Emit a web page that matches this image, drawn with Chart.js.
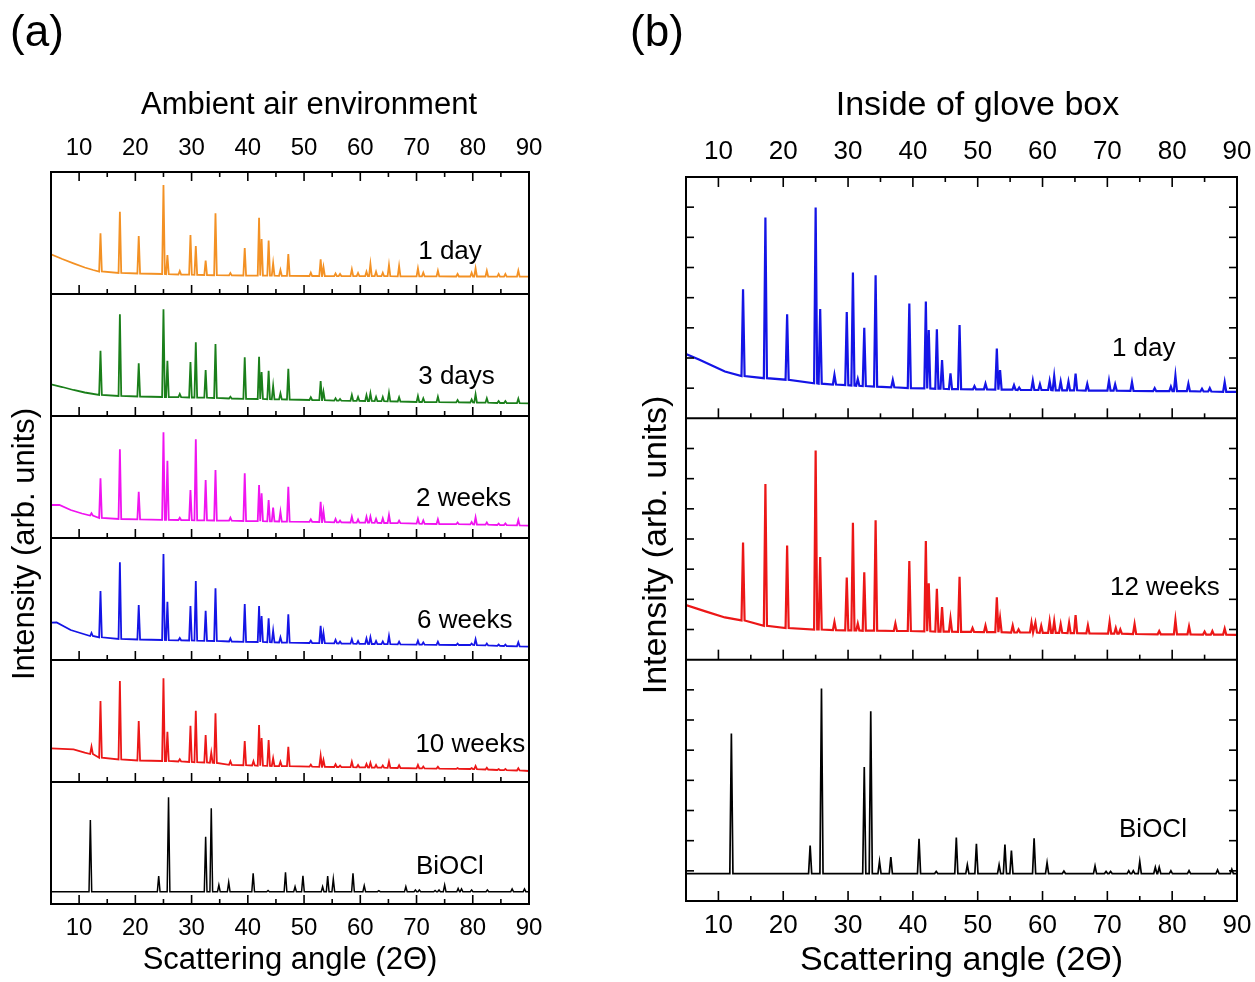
<!DOCTYPE html>
<html>
<head>
<meta charset="utf-8">
<title>XRD patterns</title>
<script src="https://cdn.jsdelivr.net/npm/chart.js@4.4.1/dist/chart.umd.min.js"></script>
<style>
  body { margin: 0; background: #fff; }
  canvas { position: absolute; top: 0; }
  #chartA { left: 0; }
  #chartB { left: 600px; }
</style>
</head>
<body>
<canvas id="chartA" width="560" height="982"></canvas>
<canvas id="chartB" width="655" height="982"></canvas>
<script>
// shared 2-theta ticks
var majorTicks = [10, 20, 30, 40, 50, 60, 70, 80, 90];
var minorTicks = [15, 25, 35, 45, 55, 65, 75, 85];
var glovesYTicks = [1, 2, 3, 4, 5, 6, 7];

// peaks are [2theta, top, foot]; base are [2theta, level] where no peak is
// (a) ambient air, each strip in arb. units 0..122
var air1dayBase = [[5, 39.7], [7, 35], [9, 30.7], [11, 26.5], [12.5, 24], [90, 17.3]];
var air1day = [[13.8, 60.7, 22.5], [17.25, 82.3, 21], [20.6, 58, 20.5], [25.0, 109, 20], [25.7, 39, 19.8], [27.9, 23, 19.5], [29.8, 59, 19.3], [30.75, 48, 19.2], [32.5, 33.5, 19], [34.25, 80.7, 18.8], [36.9, 21, 18.6], [39.45, 46, 18.5], [42.0, 76.3, 18.4], [42.45, 55, 18.4], [43.7, 53.5, 18.3], [44.5, 30.7, 18.3], [45.8, 24, 18.2], [47.2, 40, 18.2], [51.2, 21.3, 18], [52.95, 34.7, 18], [53.45, 27, 18], [55.6, 20.5, 17.9], [56.4, 20, 17.9], [58.5, 24.7, 17.9], [59.6, 21, 17.8], [61.1, 22.3, 17.8], [61.8, 30, 17.8], [62.8, 22.3, 17.8], [64.0, 21.3, 17.8], [65.1, 29, 17.8], [66.9, 28, 17.7], [70.25, 25.7, 17.7], [71.2, 21.3, 17.6], [73.8, 23.3, 17.6], [77.3, 20, 17.5], [79.8, 21.3, 17.5], [80.5, 25.7, 17.5], [82.5, 23.3, 17.5], [84.6, 20, 17.4], [85.8, 20, 17.4], [88.1, 23.3, 17.3]];

var air3daysBase = [[5, 31.7], [7, 29], [9, 26], [11, 23.5], [90, 12.7]];
var air3days = [[13.8, 65.3, 21], [17.25, 101.7, 20], [20.6, 52.7, 19.5], [25.0, 106.7, 19], [25.7, 55.3, 19], [27.9, 22, 18.8], [29.8, 54, 18.5], [30.75, 73.7, 18.5], [32.5, 46, 18.3], [34.25, 72, 18], [36.9, 19.3, 17.5], [39.45, 58.7, 17.2], [42.0, 59.3, 17], [42.45, 44, 17], [43.7, 45.3, 16.8], [44.5, 30, 16.7], [45.8, 22.7, 16.6], [47.2, 47.3, 16.5], [51.2, 18.7, 16], [52.95, 35, 15.8], [53.45, 24.3, 15.8], [55.6, 17.7, 15.4], [56.4, 17, 15.3], [58.5, 21, 15.2], [59.6, 19, 15.1], [61.1, 21, 15], [61.8, 22.7, 15], [62.8, 19, 14.9], [64.0, 19, 14.8], [65.1, 23.3, 14.7], [66.9, 18.7, 14.5], [70.25, 20, 14], [71.2, 17.7, 14], [73.8, 19.3, 13.9], [77.3, 16, 13.6], [79.8, 16.5, 13.5], [80.5, 21.7, 13.4], [82.5, 17.7, 13.3], [84.6, 15, 13], [85.8, 15, 13], [88.1, 17.3, 12.8]];

var air2weeksBase = [[5, 33], [6.5, 33], [8.5, 28], [10.5, 24.5], [90, 12.3]];
var air2weeks = [[12.2, 24.7, 22.5], [13.8, 59.7, 20], [17.25, 88.7, 19], [20.6, 46.3, 18.7], [25.0, 105.7, 18.2], [25.7, 77.3, 18.2], [27.9, 20.3, 18], [29.8, 48, 17.8], [30.75, 98.7, 17.7], [32.5, 58, 17.6], [34.25, 68, 17.5], [36.9, 20.3, 17.3], [39.45, 64.7, 17], [42.0, 53, 16.8], [42.45, 44.7, 16.8], [43.7, 38, 16.7], [44.5, 30.3, 16.6], [45.8, 26.3, 16.5], [47.2, 51.3, 16.4], [51.2, 18.7, 16.2], [52.95, 36.3, 16], [53.45, 27, 16], [55.6, 19, 15.7], [56.4, 17.5, 15.6], [58.5, 21.3, 15.5], [59.6, 18.5, 15.4], [61.1, 21, 15.3], [61.8, 21.3, 15.3], [62.8, 19, 15.2], [64.0, 19.5, 15], [65.1, 23, 15], [66.9, 17.3, 14.8], [70.25, 19.3, 14.3], [71.2, 17.5, 14.2], [73.8, 18.7, 14], [77.3, 15.5, 13.8], [79.8, 16, 13.6], [80.5, 20.7, 13.5], [82.5, 15.5, 13.3], [84.6, 14.5, 13], [85.8, 14.5, 12.9], [88.1, 18, 12.6]];

var air6weeksBase = [[5, 37.3], [6, 37.5], [8.5, 30], [10.5, 26.5], [90, 13.3]];
var air6weeks = [[12.2, 27, 24], [13.8, 69, 22.7], [17.25, 97.7, 21], [20.6, 55, 20.5], [25.0, 106, 20], [25.7, 58.3, 19.9], [27.9, 22, 19.7], [29.8, 54, 19.5], [30.75, 79, 19.4], [32.5, 49.3, 19.2], [34.25, 71.7, 19], [36.9, 21.7, 18.5], [39.45, 56, 18.2], [42.0, 54, 18], [42.45, 44, 18], [43.7, 41.7, 17.8], [44.5, 29.3, 17.7], [45.8, 22.7, 17.5], [47.2, 45.7, 17.4], [51.2, 19.3, 17], [52.95, 34.3, 16.8], [53.45, 27, 16.8], [55.6, 20, 16.6], [56.4, 18.5, 16.5], [58.5, 20.7, 16.3], [59.6, 19, 16.2], [61.1, 21.5, 16.1], [61.8, 22.7, 16], [62.8, 19, 16], [64.0, 18.5, 15.9], [65.1, 24, 15.8], [66.9, 18.3, 15.6], [70.25, 19.3, 15.4], [71.2, 17.5, 15.3], [73.8, 18.3, 15.2], [77.3, 16.5, 15], [79.8, 16.5, 15], [80.5, 20.7, 14.9], [82.5, 16.5, 14.6], [84.6, 15.5, 14.2], [85.8, 15.5, 14], [88.1, 17.7, 13.7]];

var air10weeksBase = [[5, 33.7], [9, 32.7], [11, 29.3], [90, 11]];
var air10weeks = [[12.2, 35.3, 28], [13.8, 81, 24.3], [17.25, 101, 22.5], [20.6, 61, 21.5], [25.0, 103.7, 21], [25.7, 50.3, 21], [27.9, 22.7, 20.5], [29.8, 56.3, 20], [30.75, 71.3, 19.8], [32.5, 47, 19.5], [33.5, 29.3, 19.3], [34.25, 68.7, 19], [36.9, 20.7, 17.2], [39.45, 41, 16.8], [41.0, 20.7, 16.5], [42.0, 57, 16.3], [42.45, 44, 16.3], [43.7, 42, 16.1], [44.5, 23.7, 16], [45.8, 20.3, 15.9], [47.2, 35.3, 15.8], [51.2, 17.3, 15.3], [52.95, 26.3, 15.2], [53.45, 22, 15.2], [55.6, 17.7, 15], [56.4, 16.5, 15], [58.5, 20.3, 14.8], [59.6, 17, 14.7], [61.1, 18, 14.6], [61.8, 19.3, 14.5], [62.8, 17, 14.4], [64.0, 16.5, 14.3], [65.1, 20.3, 14.2], [66.9, 16.7, 14], [70.25, 17, 13.7], [71.2, 15.5, 13.6], [73.8, 15.3, 13.4], [77.3, 14, 13.1], [79.8, 14, 13], [80.5, 16, 12.9], [82.5, 14.3, 12.5], [84.6, 13, 12], [85.8, 13, 11.9], [88.1, 13.7, 11.5]];

// (b) inside glove box, each strip in arb. units 0..8
var glove1dayBase = [[5, 2.13], [7, 1.95], [9, 1.75], [11, 1.55], [90, 0.88]];
var glove1day = [[13.8, 4.28, 1.4], [17.25, 6.66, 1.33], [20.6, 3.45, 1.28], [25.0, 6.99, 1.16], [25.7, 3.62, 1.15], [27.9, 1.44, 1.12], [29.8, 3.52, 1.1], [30.75, 4.83, 1.09], [31.5, 1.3, 1.08], [32.5, 3.0, 1.07], [34.25, 4.74, 1.05], [36.9, 1.27, 1.03], [39.45, 3.81, 1.0], [42.0, 3.87, 0.99], [42.45, 2.93, 0.99], [43.7, 2.95, 0.98], [44.5, 1.93, 0.98], [45.8, 1.49, 0.97], [47.2, 3.09, 0.97], [49.5, 1.07, 0.96], [51.2, 1.15, 0.96], [52.95, 2.31, 0.95], [53.45, 1.6, 0.95], [55.6, 1.1, 0.95], [56.4, 1.02, 0.94], [58.5, 1.25, 0.94], [59.6, 1.13, 0.94], [61.1, 1.24, 0.94], [61.8, 1.4, 0.93], [62.8, 1.22, 0.93], [64.0, 1.22, 0.93], [65.1, 1.48, 0.93], [66.9, 1.14, 0.92], [70.25, 1.25, 0.92], [71.2, 1.13, 0.92], [73.8, 1.2, 0.91], [77.3, 1.0, 0.9], [79.8, 1.05, 0.9], [80.5, 1.41, 0.9], [82.5, 1.15, 0.9], [84.6, 0.98, 0.89], [85.8, 1.0, 0.89], [88.1, 1.2, 0.88]];

var glove12weeksBase = [[5, 1.81], [8, 1.6], [11, 1.4], [90, 0.82]];
var glove12weeks = [[13.8, 3.88, 1.3], [17.25, 5.82, 1.12], [20.6, 3.78, 1.05], [25.0, 6.93, 1.0], [25.7, 3.4, 1.0], [27.9, 1.25, 0.98], [29.8, 2.72, 0.97], [30.75, 4.54, 0.97], [31.5, 1.2, 0.97], [32.5, 2.9, 0.96], [34.25, 4.62, 0.96], [37.3, 1.2, 0.95], [39.45, 3.27, 0.95], [42.0, 3.93, 0.94], [42.45, 2.53, 0.94], [43.7, 2.35, 0.93], [44.5, 1.74, 0.93], [45.8, 1.37, 0.93], [47.2, 2.75, 0.92], [49.2, 1.05, 0.92], [51.2, 1.13, 0.91], [52.95, 2.07, 0.91], [53.45, 1.38, 0.91], [55.4, 1.13, 0.9], [56.3, 1.0, 0.9], [58.3, 1.23, 0.9], [58.9, 1.23, 0.9], [59.8, 1.12, 0.89], [61.1, 1.28, 0.89], [61.8, 1.28, 0.89], [62.8, 1.18, 0.89], [64.1, 1.22, 0.88], [65.1, 1.48, 0.88], [67.0, 1.14, 0.87], [70.35, 1.25, 0.86], [71.3, 1.05, 0.86], [72.0, 1.0, 0.86], [74.2, 1.18, 0.85], [78.0, 0.95, 0.84], [80.5, 1.32, 0.84], [82.6, 1.1, 0.84], [85.0, 0.93, 0.83], [86.2, 0.95, 0.83], [88.1, 1.03, 0.83]];

// BiOCl reference lines, same angles on both panels
var bioclAngles = [12.0, 24.15, 25.9, 32.5, 33.5, 34.85, 36.6, 40.95, 43.6, 46.7, 48.4, 49.8, 53.3, 54.2, 55.2, 58.7, 60.7, 63.3, 68.1, 69.8, 70.5, 73.3, 74.0, 75.0, 77.4, 78.0, 79.8, 82.6, 87.0, 89.2];
var bioclAir = [84, 28, 106.7, 67.3, 95.7, 19, 21.7, 30.7, 13.5, 31.7, 17.3, 28.3, 17.3, 28, 25, 30.7, 18.3, 13.3, 17.3, 14, 14, 13.5, 14, 19, 15.5, 15, 14, 14, 15, 15];
var bioclGlove = [5.55, 1.84, 7.04, 4.44, 6.29, 1.31, 1.46, 2.06, 0.98, 2.1, 1.2, 1.9, 1.2, 1.87, 1.67, 2.08, 1.27, 0.99, 1.16, 0.98, 0.98, 1.0, 1.0, 1.31, 1.12, 1.12, 1.0, 1.01, 1.03, 1.05];
var bioclAirFloor = 12.3;
var bioclGloveFloor = 0.91;

var peakHalf = 0.24;
var fontFamily = "'Liberation Sans', Arial, sans-serif";
Chart.defaults.font.family = fontFamily;
Chart.defaults.color = '#000';

function trace(base, peaks) {
  var pts = base.map(function (b) { return {x: b[0], y: b[1]}; });
  peaks.forEach(function (p) {
    pts.push({x: p[0] - peakHalf, y: p[2]}, {x: p[0], y: p[1]}, {x: p[0] + peakHalf, y: p[2]});
  });
  return pts.sort(function (a, b) { return a.x - b.x; });
}

function sticks(heights, floor) {
  return trace([[5, floor], [90, floor]], bioclAngles.map(function (a, i) { return [a, heights[i], floor]; }));
}

// frame, inward ticks, dividers and the texts inside the plot
var panelFrame = {
  id: 'panelFrame',
  afterDatasetsDraw: function (chart, args, o) {
    var ctx = chart.ctx, area = chart.chartArea, xs = chart.scales.x;
    function seg(x1, y1, x2, y2) { ctx.beginPath(); ctx.moveTo(x1, y1); ctx.lineTo(x2, y2); ctx.stroke(); }
    ctx.save();
    ctx.strokeStyle = '#000';
    ctx.lineWidth = 1.6;
    o.strips.forEach(function (s, i) {
      var ys = chart.scales[s.axis];
      majorTicks.forEach(function (v) {
        var px = xs.getPixelForValue(v);
        seg(px, ys.bottom, px, ys.bottom - o.major);
        if (i === 0) seg(px, ys.top, px, ys.top + o.major);
      });
      minorTicks.forEach(function (v) {
        var px = xs.getPixelForValue(v);
        seg(px, ys.bottom, px, ys.bottom - o.minor);
        if (i === 0) seg(px, ys.top, px, ys.top + o.minor);
      });
      if (o.yTicks) {
        o.yTicks.forEach(function (v) {
          var py = ys.getPixelForValue(v);
          seg(area.left, py, area.left + o.yLen, py);
          seg(area.right, py, area.right - o.yLen, py);
        });
      }
    });
    ctx.lineWidth = 2;
    o.strips.forEach(function (s) {
      var ys = chart.scales[s.axis];
      seg(area.left, ys.bottom, area.right, ys.bottom);
    });
    ctx.strokeRect(area.left, area.top, area.right - area.left, area.bottom - area.top);

    ctx.fillStyle = '#000';
    ctx.textBaseline = 'middle';
    ctx.textAlign = 'left';
    ctx.font = '26px ' + fontFamily;
    o.strips.forEach(function (s) {
      ctx.fillText(s.text, xs.getPixelForValue(s.at[0]), chart.scales[s.axis].getPixelForValue(s.at[1]));
    });

    ctx.textAlign = 'center';
    ctx.font = o.titleSize + 'px ' + fontFamily;
    ctx.fillText(o.title, (area.left + area.right) / 2 + o.titleShift, o.titleY);
    ctx.save();
    ctx.translate(o.yTitleX, (area.top + area.bottom) / 2 + 6);
    ctx.rotate(-Math.PI / 2);
    ctx.fillText('Intensity (arb. units)', 0, 0);
    ctx.restore();
    ctx.font = '44px ' + fontFamily;
    ctx.fillText(o.letter, o.letterX, 34);
    ctx.restore();
  }
};

function xAxis(pos, height, size, pad, title) {
  return {
    type: 'linear', position: pos, min: 5, max: 90,
    afterBuildTicks: function (s) { s.ticks = majorTicks.map(function (v) { return {value: v}; }); },
    afterFit: function (s) { s.height = height; },
    grid: {display: false}, border: {display: false},
    ticks: {font: {size: size}, padding: pad, maxRotation: 0, autoSkip: false},
    title: title ? {display: true, text: title.text, font: {size: title.size}, padding: {top: 0, bottom: title.pad}} : {display: false}
  };
}

function stripAxis(max) {
  return {type: 'linear', position: 'left', stack: 'strips', stackWeight: 1, min: 0, max: max, display: false};
}

function line(data, color, width, axis) {
  return {data: data, borderColor: color, borderWidth: width, pointRadius: 0, tension: 0, yAxisID: axis, xAxisID: 'x'};
}

// (a) ambient air
new Chart(document.getElementById('chartA'), {
  type: 'line',
  data: {
    datasets: [
      line(trace(air1dayBase, air1day), '#f39124', 1.8, 'a0'),
      line(trace(air3daysBase, air3days), '#1a7f1a', 1.8, 'a1'),
      line(trace(air2weeksBase, air2weeks), '#f014f0', 1.8, 'a2'),
      line(trace(air6weeksBase, air6weeks), '#1414e6', 1.8, 'a3'),
      line(trace(air10weeksBase, air10weeks), '#ec1717', 1.8, 'a4'),
      line(sticks(bioclAir, bioclAirFloor), '#000', 1.5, 'a5')
    ]
  },
  options: {
    responsive: false, animation: false, devicePixelRatio: 1,
    layout: {padding: {left: 51, right: 31, top: 0, bottom: 0}},
    plugins: {
      legend: {display: false}, tooltip: {enabled: false},
      panelFrame: {
        major: 9, minor: 5,
        title: 'Ambient air environment', titleSize: 31, titleShift: 19, titleY: 105,
        yTitleX: 25, letter: '(a)', letterX: 37,
        strips: [
          {axis: 'a0', text: '1 day', at: [70.3, 42.5]},
          {axis: 'a1', text: '3 days', at: [70.3, 39]},
          {axis: 'a2', text: '2 weeks', at: [69.9, 39]},
          {axis: 'a3', text: '6 weeks', at: [70.1, 39]},
          {axis: 'a4', text: '10 weeks', at: [69.8, 37]},
          {axis: 'a5', text: 'BiOCl', at: [69.9, 37]}
        ]
      }
    },
    // strips are listed bottom first, the layout stacks them upwards
    scales: {
      x: xAxis('bottom', 78, 24, 2, {text: 'Scattering angle (2\u0398)', size: 31, pad: 3}),
      x2: xAxis('top', 172, 24, 1, null),
      a5: stripAxis(122), a4: stripAxis(122), a3: stripAxis(122),
      a2: stripAxis(122), a1: stripAxis(122), a0: stripAxis(122)
    }
  },
  plugins: [panelFrame]
});

// (b) inside glove box
new Chart(document.getElementById('chartB'), {
  type: 'line',
  data: {
    datasets: [
      line(trace(glove1dayBase, glove1day), '#1414e6', 2.2, 'b0'),
      line(trace(glove12weeksBase, glove12weeks), '#ec1717', 2.2, 'b1'),
      line(sticks(bioclGlove, bioclGloveFloor), '#000', 1.7, 'b2')
    ]
  },
  options: {
    responsive: false, animation: false, devicePixelRatio: 1,
    layout: {padding: {left: 86, right: 18, top: 0, bottom: 0}},
    plugins: {
      legend: {display: false}, tooltip: {enabled: false},
      panelFrame: {
        major: 10, minor: 5, yTicks: glovesYTicks, yLen: 8,
        title: 'Inside of glove box', titleSize: 34, titleShift: 16, titleY: 106,
        yTitleX: 57, letter: '(b)', letterX: 57,
        strips: [
          {axis: 'b0', text: '1 day', at: [70.7, 2.3]},
          {axis: 'b1', text: '12 weeks', at: [70.4, 2.38]},
          {axis: 'b2', text: 'BiOCl', at: [71.8, 2.35]}
        ]
      }
    },
    scales: {
      x: xAxis('bottom', 81, 26, 1, {text: 'Scattering angle (2\u0398)', size: 34, pad: 1}),
      x2: xAxis('top', 177, 26, 2, null),
      b2: stripAxis(8), b1: stripAxis(8), b0: stripAxis(8)
    }
  },
  plugins: [panelFrame]
});
</script>
</body>
</html>
